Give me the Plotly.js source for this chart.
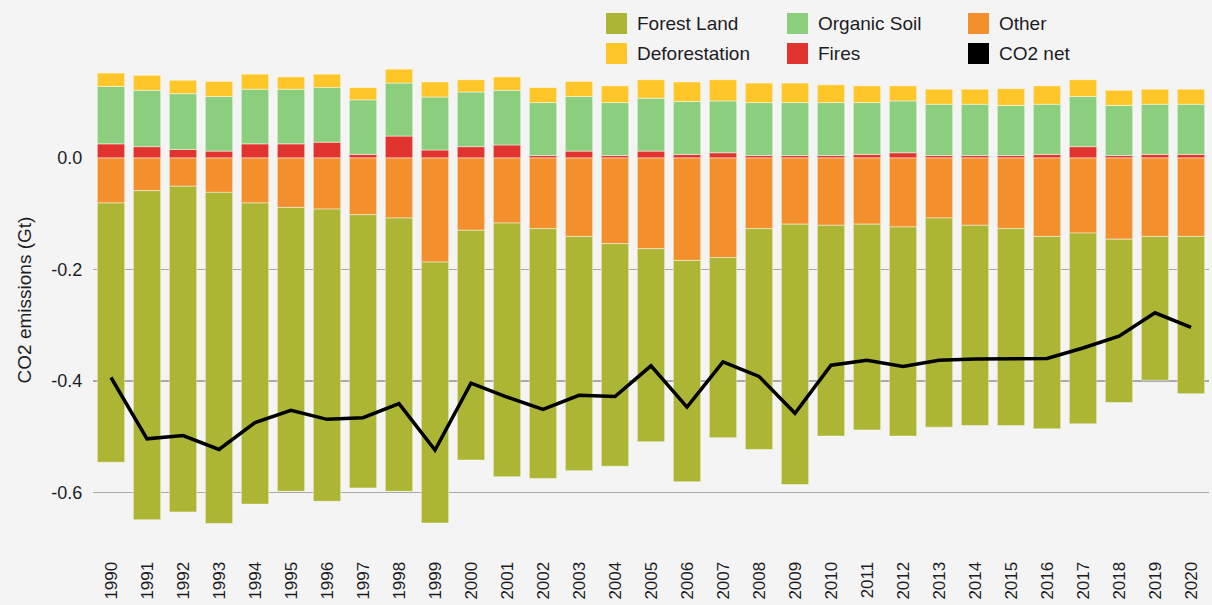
<!DOCTYPE html>
<html>
<head>
<meta charset="utf-8">
<script src="https://cdn.plot.ly/plotly-3.0.1.min.js"></script>
<style>
  html, body { margin: 0; padding: 0; background: #f4f4f4; }
  #chart { width: 1212px; height: 605px; }
</style>
</head>
<body>
<div id="chart"></div>
<script>
// ---- Data (Gt CO2) ----
const years = ["1990","1991","1992","1993","1994","1995","1996","1997","1998","1999",
               "2000","2001","2002","2003","2004","2005","2006","2007","2008","2009",
               "2010","2011","2012","2013","2014","2015","2016","2017","2018","2019","2020"];

const forestLand = [-0.465,-0.590,-0.584,-0.594,-0.540,-0.509,-0.524,-0.490,-0.490,-0.468,
                    -0.412,-0.455,-0.448,-0.420,-0.399,-0.346,-0.397,-0.323,-0.396,-0.467,
                    -0.378,-0.369,-0.375,-0.375,-0.359,-0.353,-0.345,-0.342,-0.293,-0.258,-0.282];

const other = [-0.081,-0.059,-0.051,-0.062,-0.081,-0.089,-0.092,-0.102,-0.108,-0.187,
               -0.130,-0.117,-0.127,-0.141,-0.154,-0.163,-0.184,-0.179,-0.127,-0.119,
               -0.121,-0.119,-0.124,-0.108,-0.121,-0.127,-0.141,-0.135,-0.146,-0.141,-0.141];

const fires = [0.025,0.020,0.015,0.012,0.025,0.025,0.028,0.006,0.039,0.014,
               0.020,0.023,0.004,0.012,0.004,0.012,0.006,0.009,0.004,0.004,
               0.004,0.006,0.009,0.004,0.004,0.004,0.006,0.020,0.004,0.006,0.006];

const organicSoil = [0.103,0.101,0.100,0.098,0.098,0.098,0.098,0.098,0.095,0.095,
                     0.098,0.098,0.095,0.098,0.095,0.095,0.095,0.093,0.095,0.095,
                     0.095,0.093,0.093,0.092,0.092,0.090,0.090,0.090,0.090,0.090,0.090];

const deforestation = [0.024,0.027,0.024,0.027,0.027,0.022,0.024,0.022,0.025,0.027,
                       0.022,0.024,0.027,0.027,0.030,0.033,0.035,0.038,0.035,0.035,
                       0.032,0.030,0.027,0.027,0.027,0.030,0.033,0.030,0.027,0.027,0.027];

const co2Net = [-0.394,-0.504,-0.498,-0.523,-0.475,-0.453,-0.469,-0.466,-0.441,-0.524,
                -0.404,-0.429,-0.451,-0.426,-0.428,-0.373,-0.447,-0.366,-0.392,-0.458,
                -0.372,-0.363,-0.374,-0.363,-0.361,-0.360,-0.360,-0.341,-0.320,-0.278,-0.304];

const yTickVals = [-0.6, -0.4, -0.2, 0.0];
const yTickText = ["-0.6", "-0.4", "-0.2", "0.0"];

const names = {
  forest: "Forest Land", organic: "Organic Soil", other: "Other",
  defor: "Deforestation", fires: "Fires", net: "CO2 net"
};

// ---- Styling ----
const colors = {
  forest: "#adb534", organic: "#8bcf7e", other: "#f38f2d",
  defor: "#ffc62a", fires: "#e2342f", net: "#000000"
};
const FONT = "Liberation Sans, Arial, sans-serif";
const TXT = "#1c1c24";
const edge = { color: "rgba(255,255,255,0.45)", width: 1 };

function bar(y, key) {
  return { type: "bar", x: years, y: y, name: names[key],
           marker: { color: colors[key], line: edge }, showlegend: false,
           hoverinfo: "x+y+name" };
}

const traces = [
  bar(other, "other"),
  bar(forestLand, "forest"),
  bar(fires, "fires"),
  bar(organicSoil, "organic"),
  bar(deforestation, "defor"),
  { type: "scatter", mode: "lines", x: years, y: co2Net, name: names.net,
    line: { color: colors.net, width: 3.5 }, showlegend: false }
];

// plot-area geometry (pixels) used for custom legend placement
const L = 93, R = 3, T = 63, B = 68, W = 1212, H = 605;
const pw = W - L - R, ph = H - T - B;
const px = v => (v - L) / pw;
const py = v => (H - B - v) / ph;

const legendItems = [
  { key: "forest",  x: 606, y: 13 },
  { key: "organic", x: 787, y: 13 },
  { key: "other",   x: 968, y: 13 },
  { key: "defor",   x: 606, y: 43 },
  { key: "fires",   x: 787, y: 43 },
  { key: "net",     x: 968, y: 43 }
];
const sw = 21;
const shapes = [
  { type: "line", xref: "paper", yref: "y", x0: 0, x1: 1, y0: 0, y1: 0,
    line: { color: "#b0b0b0", width: 2, dash: "dot" }, layer: "between" }
];
const annotations = [];
legendItems.forEach(it => {
  shapes.push({ type: "rect", xref: "paper", yref: "paper",
    x0: px(it.x), x1: px(it.x + sw), y0: py(it.y + sw), y1: py(it.y),
    fillcolor: colors[it.key], line: { width: 0 } });
  annotations.push({ xref: "paper", yref: "paper", x: px(it.x + sw + 8), y: py(it.y + sw / 2),
    xanchor: "left", yanchor: "middle", showarrow: false, text: names[it.key],
    font: { family: FONT, size: 19, color: TXT } });
});

const layout = {
  width: W, height: H,
  margin: { l: L, r: R, t: T, b: B },
  paper_bgcolor: "#f4f4f4", plot_bgcolor: "#f4f4f4",
  barmode: "relative", bargap: 0.24,
  showlegend: false,
  font: { family: FONT, color: TXT },
  xaxis: {
    type: "category", range: [-0.5, 30.5], tickangle: -90,
    tickfont: { family: FONT, size: 17, color: TXT },
    ticks: "outside", ticklen: 17, tickcolor: "rgba(0,0,0,0)",
    showgrid: false, zeroline: false, showline: false, fixedrange: true
  },
  yaxis: {
    range: [-0.68, 0.17], tickvals: yTickVals, ticktext: yTickText,
    tickfont: { family: FONT, size: 18, color: TXT },
    ticks: "outside", ticklen: 6, tickcolor: "rgba(0,0,0,0)",
    showgrid: true, gridcolor: "#a9a9a9", gridwidth: 1.5,
    zeroline: true, zerolinecolor: "#f4f4f4", zerolinewidth: 3,
    showline: false,
    title: { text: "CO2 emissions (Gt)", font: { family: FONT, size: 19, color: TXT }, standoff: 14 }
  },
  shapes: shapes,
  annotations: annotations
};

Plotly.newPlot("chart", traces, layout, { displayModeBar: false, staticPlot: true });
</script>
</body>
</html>
